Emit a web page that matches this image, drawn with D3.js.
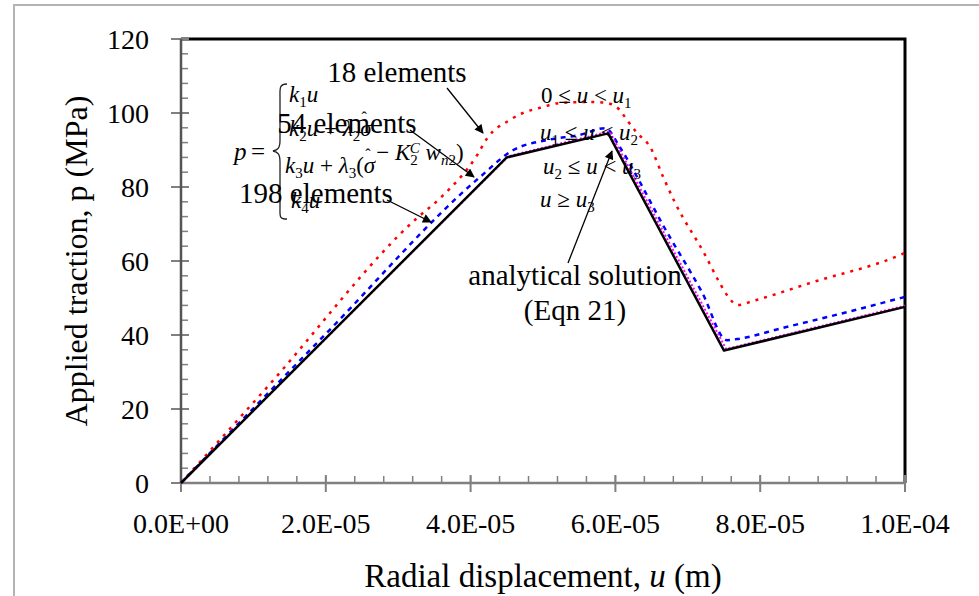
<!DOCTYPE html>
<html>
<head>
<meta charset="utf-8">
<script src="https://cdn.jsdelivr.net/npm/d3@7"></script>
<style>
  body { margin: 0; background: #fff; }
  svg { display: block; }
  text { font-family: "Liberation Serif", "Times New Roman", serif; fill: #000; }
</style>
</head>
<body>
<svg id="chart" width="979" height="596"></svg>
<script>
// displacement values in units of 1E-5 m, traction in MPa
var analyticU = [0, 4.5, 5.9, 7.5, 10];
var analyticP = [0, 88, 94.5, 35.8, 47.6];

var el198U = [0, 4.52, 5.92, 7.53, 10];
var el198P = [0, 88.3, 95.0, 36.2, 47.9];

var el54U = [0, 2.0, 4.13, 4.59, 5.06, 5.51, 5.86, 6.06, 6.30, 6.64, 7.20, 7.54, 7.68, 8.31, 9.14, 10];
var el54P = [0, 40.3, 82.7, 90.0, 92.7, 94.1, 95.9, 90.8, 82.7, 70.3, 51.4, 38.6, 38.9, 41.9, 45.9, 50.3];

var el18U = [0, 1.19, 3.26, 3.58, 4.09, 4.23, 4.54, 4.72, 4.96, 5.23, 5.65, 5.88, 6.06, 6.16, 6.30, 6.48, 6.66, 6.82, 7.24, 7.44, 7.56, 7.69, 7.90, 8.73, 9.93, 10];
var el18P = [0, 25.9, 71.6, 77.0, 88.6, 93.2, 98.1, 100.0, 101.4, 102.7, 103.0, 102.7, 100.8, 98.1, 94.6, 90.8, 82.7, 75.9, 61.6, 54.1, 50.3, 48.1, 49.2, 54.3, 61.6, 62.2];

var xTicks = [0, 2, 4, 6, 8, 10];
var xTickLabels = ["0.0E+00", "2.0E-05", "4.0E-05", "6.0E-05", "8.0E-05", "1.0E-04"];
var yTicks = [0, 20, 40, 60, 80, 100, 120];

var svg = d3.select("#chart");

// outer frame (top and left edges only)
svg.append("rect")
    .attr("x", 14).attr("y", 5).attr("width", 1000).attr("height", 700)
    .attr("fill", "none").attr("stroke", "#b4b4b4").attr("stroke-width", 2);

var plotL = 181, plotR = 905, plotT = 39, plotB = 483;

var x = d3.scaleLinear().domain([0, 10]).range([plotL, plotR]);
var y = d3.scaleLinear().domain([0, 120]).range([plotB, plotT]);

// plot frame: black top and right
svg.append("path")
    .attr("d", "M" + plotL + "," + plotT + "H" + plotR + "V" + plotB)
    .attr("fill", "none").attr("stroke", "#000").attr("stroke-width", 3);

// minor ticks (inside)
var axisColor = "#808080";
var gTicks = svg.append("g");
d3.range(0, 10.01, 0.4).forEach(function (v) {
    gTicks.append("line")
        .attr("x1", x(v)).attr("x2", x(v))
        .attr("y1", plotB).attr("y2", plotB - 7)
        .attr("stroke", axisColor).attr("stroke-width", 1.5);
});
d3.range(0, 120.01, 4).forEach(function (v) {
    gTicks.append("line")
        .attr("x1", plotL).attr("x2", plotL + 7)
        .attr("y1", y(v)).attr("y2", y(v))
        .attr("stroke", axisColor).attr("stroke-width", 1.5);
});

// major ticks cross the axes
xTicks.forEach(function (v) {
    gTicks.append("line")
        .attr("x1", x(v)).attr("x2", x(v))
        .attr("y1", plotB - 8).attr("y2", plotB + 9)
        .attr("stroke", axisColor).attr("stroke-width", 2);
});
yTicks.forEach(function (v) {
    gTicks.append("line")
        .attr("x1", plotL - 10).attr("x2", plotL + 8)
        .attr("y1", y(v)).attr("y2", y(v))
        .attr("stroke", axisColor).attr("stroke-width", 2);
});

// axis lines
svg.append("line").attr("x1", plotL).attr("x2", plotR).attr("y1", plotB).attr("y2", plotB)
    .attr("stroke", axisColor).attr("stroke-width", 2.5);
svg.append("line").attr("x1", plotL).attr("x2", plotL).attr("y1", plotT).attr("y2", plotB)
    .attr("stroke", "#555").attr("stroke-width", 2.5);

// tick labels
svg.selectAll(".xl").data(xTicks).enter().append("text")
    .attr("x", function (d) { return x(d); })
    .attr("y", 533)
    .attr("text-anchor", "middle")
    .style("font-size", "28px")
    .text(function (d, i) { return xTickLabels[i]; });

svg.selectAll(".yl").data(yTicks).enter().append("text")
    .attr("x", 149)
    .attr("y", function (d) { return y(d) + 10; })
    .attr("text-anchor", "end")
    .style("font-size", "28px")
    .text(function (d) { return d; });

// axis titles
var xt = svg.append("text").attr("x", 543).attr("y", 587)
    .attr("text-anchor", "middle").style("font-size", "33px");
xt.append("tspan").text("Radial displacement, ");
xt.append("tspan").style("font-style", "italic").text("u");
xt.append("tspan").text("  (m)");

svg.append("text")
    .attr("transform", "translate(87,261) rotate(-90)")
    .attr("text-anchor", "middle")
    .style("font-size", "32px")
    .text("Applied traction, p (MPa)");

// series
var line = d3.line()
    .x(function (d) { return x(d[0]); })
    .y(function (d) { return y(d[1]); });
var smooth = d3.line()
    .x(function (d) { return x(d[0]); })
    .y(function (d) { return y(d[1]); })
    .curve(d3.curveMonotoneX);

svg.append("path").datum(d3.zip(el18U, el18P))
    .attr("d", smooth).attr("fill", "none")
    .attr("stroke", "#ff0000").attr("stroke-width", 2.5)
    .attr("stroke-dasharray", "3,6");

svg.append("path").datum(d3.zip(el54U, el54P))
    .attr("d", smooth).attr("fill", "none")
    .attr("stroke", "#0000ff").attr("stroke-width", 2.5)
    .attr("stroke-dasharray", "5,5");

svg.append("path").datum(d3.zip(el198U, el198P))
    .attr("d", line).attr("fill", "none")
    .attr("stroke", "#ff00ff").attr("stroke-width", 2)
    .attr("stroke-dasharray", "2,2");

svg.append("path").datum(d3.zip(analyticU, analyticP))
    .attr("d", line).attr("fill", "none")
    .attr("stroke", "#000").attr("stroke-width", 2.5)
    .attr("stroke-linejoin", "round");

// arrow marker
svg.append("defs").append("marker")
    .attr("id", "arr").attr("viewBox", "0 0 10 10")
    .attr("refX", 9).attr("refY", 5)
    .attr("markerWidth", 10).attr("markerHeight", 9)
    .attr("markerUnits", "userSpaceOnUse")
    .attr("orient", "auto")
    .append("path").attr("d", "M0,0L10,5L0,10z").attr("fill", "#000");

function arrow(x1, y1, x2, y2) {
    svg.append("line")
        .attr("x1", x1).attr("y1", y1).attr("x2", x2).attr("y2", y2)
        .attr("stroke", "#000").attr("stroke-width", 1.3)
        .attr("marker-end", "url(#arr)");
}

// equation block
var eq = svg.append("g").style("font-size", "23px").style("font-style", "italic");
eq.append("text").attr("x", 234).attr("y", 160).text("p").style("font-size", "25px");
eq.append("text").attr("x", 251).attr("y", 160).text("=").style("font-size", "25px").style("font-style", "normal");
svg.append("path")
    .attr("d", "M287,84 C279,84 280,89 280,97 L280,140 C280,148 278,150 273,151 C278,152 280,154 280,162 L280,208 C280,216 279,219 287,219")
    .attr("fill", "none").attr("stroke", "#222").attr("stroke-width", 1.3);

function sub(t, s) {
    t.append("tspan").attr("baseline-shift", "-30%").style("font-size", "15px").style("font-style", "normal").text(s);
}
function txt(t, s, italic) {
    t.append("tspan").style("font-style", italic === false ? "normal" : "italic").text(s);
}
function hat(t) {
    t.append("tspan").text("σ");
    t.append("tspan").attr("dx", -10).attr("dy", -13).style("font-style", "normal").style("font-size", "16px").text("ˆ");
    t.append("tspan").attr("dy", 13).text("");
}

var l1 = eq.append("text").attr("x", 289).attr("y", 102);
txt(l1, "k"); sub(l1, "1"); txt(l1, "u");

var l2 = eq.append("text").attr("x", 289).attr("y", 136);
txt(l2, "k"); sub(l2, "2"); txt(l2, "u"); txt(l2, " + ", false); txt(l2, "λ"); sub(l2, "2"); hat(l2);

var l3 = eq.append("text").attr("x", 285).attr("y", 173);
txt(l3, "k"); sub(l3, "3"); txt(l3, "u"); txt(l3, " + ", false); txt(l3, "λ"); sub(l3, "3");
txt(l3, "(", false); hat(l3); txt(l3, " − ", false); txt(l3, "K");
l3.append("tspan").attr("baseline-shift", "-30%").style("font-size", "15px").style("font-style", "normal").text("2");
l3.append("tspan").attr("dx", -8).attr("baseline-shift", "50%").style("font-size", "15px").text("C");
txt(l3, " w");
l3.append("tspan").attr("baseline-shift", "-30%").style("font-size", "15px").text("n");
l3.append("tspan").attr("baseline-shift", "-30%").style("font-size", "15px").style("font-style", "normal").text("2");
txt(l3, ")", false);

var l4 = eq.append("text").attr("x", 291).attr("y", 208);
txt(l4, "k"); sub(l4, "4"); txt(l4, "u");

// conditions
var c1 = eq.append("text").attr("x", 541).attr("y", 103);
txt(c1, "0 ≤ ", false); txt(c1, "u"); txt(c1, " < ", false); txt(c1, "u"); sub(c1, "1");
var c2 = eq.append("text").attr("x", 540).attr("y", 140);
txt(c2, "u"); sub(c2, "1"); txt(c2, " ≤ ", false); txt(c2, "u"); txt(c2, " < ", false); txt(c2, "u"); sub(c2, "2");
var c3 = eq.append("text").attr("x", 543).attr("y", 174);
txt(c3, "u"); sub(c3, "2"); txt(c3, " ≤ ", false); txt(c3, "u"); txt(c3, " < ", false); txt(c3, "u"); sub(c3, "3");
var c4 = eq.append("text").attr("x", 540).attr("y", 207);
txt(c4, "u"); txt(c4, " ≥ ", false); txt(c4, "u"); sub(c4, "3");

// series labels with arrows
svg.append("text").attr("x", 397).attr("y", 82).attr("text-anchor", "middle")
    .style("font-size", "29px").text("18 elements");
arrow(447, 88, 483, 133);

svg.append("text").attr("x", 347).attr("y", 133).attr("text-anchor", "middle")
    .style("font-size", "29px").text("54 elements");
arrow(410, 130, 474, 177);

svg.append("text").attr("x", 316).attr("y", 203).attr("text-anchor", "middle")
    .style("font-size", "29px").text("198 elements");
arrow(387, 200, 431, 222);

svg.append("text").attr("x", 575).attr("y", 285).attr("text-anchor", "middle")
    .style("font-size", "29px").text("analytical solution");
svg.append("text").attr("x", 575).attr("y", 320).attr("text-anchor", "middle")
    .style("font-size", "29px").text("(Eqn 21)");
arrow(568, 263, 612, 151);
</script>
</body>
</html>
